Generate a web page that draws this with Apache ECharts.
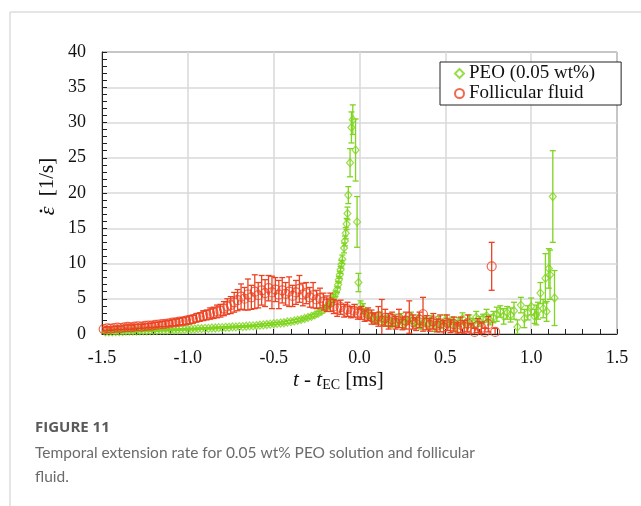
<!DOCTYPE html>
<html><head><meta charset="utf-8">
<script src="https://cdn.jsdelivr.net/npm/echarts@6/dist/echarts.min.js"></script>
<style>html,body{margin:0;padding:0;background:#fff}#c{width:641px;height:506px}</style>
</head><body><div id="c"></div>
<script>
// ---------- data ----------
const xTicks = [-1.5, -1.0, -0.5, 0.0, 0.5, 1.0, 1.5];
const yTicks = [0, 5, 10, 15, 20, 25, 30, 35, 40];

const peoT = [-1.48,-1.46,-1.44,-1.42,-1.40,-1.38,-1.36,-1.34,-1.32,-1.30,-1.28,-1.26,-1.24,-1.22,-1.20,-1.18,-1.16,-1.14,-1.12,-1.10,-1.08,-1.06,-1.04,-1.02,-1.00,-0.98,-0.96,-0.94,-0.92,-0.90,-0.88,-0.86,-0.84,-0.82,-0.80,-0.78,-0.76,-0.74,-0.72,-0.70,-0.68,-0.66,-0.64,-0.62,-0.60,-0.58,-0.56,-0.54,-0.52,-0.50,-0.48,-0.46,-0.44,-0.42,-0.40,-0.38,-0.36,-0.34,-0.32,-0.30,-0.28,-0.26,-0.24,-0.22,-0.20,-0.19,-0.18,-0.17,-0.16,-0.15,-0.14,-0.13,-0.125,-0.12,-0.115,-0.11,-0.105,-0.10,-0.09,-0.085,-0.08,-0.075,-0.07,-0.065,-0.055,-0.047,-0.039,-0.023,-0.014,-0.006,0.006,0.02,0.04,0.06,0.08,0.10,0.12,0.14,0.16,0.18,0.20,0.22,0.24,0.26,0.28,0.30,0.32,0.34,0.36,0.38,0.40,0.42,0.44,0.46,0.48,0.50,0.52,0.54,0.56,0.58,0.60,0.62,0.64,0.66,0.68,0.70,0.72,0.74,0.76,0.78,0.80,0.82,0.84,0.86,0.88,0.90,0.92,0.94,0.96,0.98,1.00,1.02,1.03,1.04,1.054,1.07,1.083,1.09,1.103,1.11,1.126,1.136];
const peoY = [0.3,0.3,0.3,0.35,0.35,0.35,0.4,0.4,0.4,0.4,0.45,0.45,0.45,0.5,0.5,0.5,0.55,0.55,0.55,0.6,0.6,0.6,0.65,0.65,0.7,0.7,0.7,0.75,0.75,0.8,0.8,0.85,0.85,0.9,0.9,0.95,0.95,1.0,1.0,1.05,1.05,1.1,1.15,1.15,1.2,1.25,1.3,1.35,1.4,1.45,1.5,1.55,1.6,1.7,1.75,1.85,1.95,2.05,2.2,2.35,2.5,2.7,2.95,3.25,3.6,3.85,4.1,4.4,4.8,5.2,5.7,6.3,7.0,7.7,8.4,9.1,9.9,10.6,12.2,13.2,14.3,15.6,17.1,19.7,24.3,29.3,30.4,26.1,15.9,7.3,4.1,3.6,3.0,2.6,2.3,2.0,2.4,1.8,2.1,1.5,2.0,1.6,2.2,1.4,1.9,2.3,1.6,2.0,1.2,1.8,1.4,2.1,1.0,1.7,1.3,2.0,1.5,1.9,1.1,1.7,2.2,1.4,2.0,1.6,2.4,1.8,2.2,2.6,2.0,2.4,2.8,3.2,2.5,3.0,2.7,3.3,1.0,4.1,2.2,3.0,3.9,2.5,2.7,3.3,5.8,3.6,7.9,3.2,9.3,8.4,19.5,5.1];
const peoErr = [0.1,0.1,0.1,0.1,0.1,0.1,0.1,0.1,0.1,0.1,0.1,0.1,0.1,0.1,0.1,0.1,0.1,0.1,0.1,0.1,0.1,0.1,0.1,0.1,0.1,0.1,0.1,0.1,0.1,0.1,0.1,0.1,0.1,0.1,0.1,0.1,0.1,0.1,0.1,0.1,0.1,0.1,0.1,0.1,0.15,0.15,0.15,0.15,0.15,0.15,0.15,0.15,0.2,0.2,0.2,0.2,0.2,0.2,0.2,0.2,0.25,0.25,0.25,0.3,0.3,0.3,0.3,0.35,0.35,0.4,0.4,0.4,0.45,0.45,0.5,0.5,0.55,0.6,0.7,0.7,0.8,0.8,0.9,1.2,2.0,2.2,2.1,4.4,3.6,1.3,0.6,0.7,0.6,0.5,0.6,0.5,0.7,0.6,0.5,0.6,0.8,0.5,0.7,0.6,0.5,0.8,0.6,0.7,0.5,0.6,0.7,0.5,0.6,0.8,0.5,0.7,0.6,0.5,0.7,0.6,0.8,0.5,0.7,0.6,0.8,0.7,0.6,0.9,0.7,0.8,1.0,0.8,1.1,0.9,1.0,1.2,1.0,1.1,1.3,1.0,1.2,1.0,1.4,1.2,1.5,1.3,3.5,1.4,2.8,3.5,6.5,3.9];

const ffT = [-1.49,-1.47,-1.45,-1.43,-1.41,-1.39,-1.37,-1.35,-1.33,-1.31,-1.29,-1.27,-1.25,-1.23,-1.21,-1.19,-1.17,-1.15,-1.13,-1.11,-1.09,-1.07,-1.05,-1.03,-1.01,-0.99,-0.97,-0.95,-0.93,-0.91,-0.89,-0.87,-0.85,-0.83,-0.81,-0.79,-0.77,-0.75,-0.73,-0.71,-0.69,-0.67,-0.65,-0.63,-0.61,-0.59,-0.57,-0.55,-0.53,-0.51,-0.49,-0.47,-0.45,-0.43,-0.41,-0.39,-0.37,-0.35,-0.33,-0.31,-0.29,-0.27,-0.25,-0.23,-0.21,-0.19,-0.17,-0.15,-0.13,-0.11,-0.09,-0.07,-0.05,-0.03,-0.01,0.01,0.03,0.05,0.07,0.09,0.11,0.13,0.15,0.17,0.19,0.21,0.23,0.25,0.27,0.29,0.31,0.33,0.35,0.37,0.39,0.41,0.43,0.45,0.47,0.49,0.51,0.53,0.55,0.57,0.59,0.61,0.63,0.65,0.67,0.69,0.71,0.73,0.75,0.77,0.79];
const ffY = [0.7,0.8,0.75,0.85,0.9,0.85,0.95,1.0,0.95,1.05,1.1,1.05,1.15,1.2,1.2,1.3,1.35,1.4,1.45,1.5,1.6,1.65,1.75,1.8,1.9,2.0,2.1,2.3,2.4,2.6,2.7,2.9,3.0,3.2,3.3,3.6,3.9,4.1,4.5,4.8,5.3,5.0,5.6,5.2,6.0,5.5,6.2,5.8,6.5,5.9,6.3,5.6,6.2,5.7,6.0,5.4,5.9,6.4,5.6,5.8,5.2,5.5,4.9,5.1,4.6,4.3,4.5,3.9,3.6,3.8,3.3,3.5,3.1,3.3,2.9,3.0,2.6,2.8,2.4,2.2,2.5,1.9,2.3,1.8,2.1,1.6,2.2,1.5,1.9,2.4,1.7,1.4,2.0,2.8,1.6,1.3,1.8,1.2,1.5,0.9,1.6,1.1,1.4,0.8,1.3,1.0,1.5,0.7,0.3,1.2,0.9,0.3,1.4,9.6,0.3];
const ffErr = [0.25,0.25,0.25,0.25,0.25,0.25,0.3,0.3,0.3,0.3,0.3,0.3,0.3,0.3,0.35,0.35,0.35,0.35,0.4,0.4,0.4,0.45,0.45,0.5,0.5,0.55,0.55,0.6,0.6,0.7,0.7,0.8,0.8,0.9,0.9,1.0,1.1,1.2,1.4,1.5,1.8,1.6,2.2,1.7,2.4,1.8,2.1,1.9,1.8,2.3,1.7,2.0,1.8,1.6,2.1,1.5,1.7,1.9,1.6,1.5,1.4,1.8,1.3,1.4,1.2,1.1,1.3,1.0,1.1,1.0,0.9,1.0,0.8,0.9,0.8,0.9,0.8,0.9,1.0,0.8,1.4,3.0,1.2,1.1,1.0,0.9,1.3,0.9,1.2,2.3,1.0,0.9,1.1,2.4,1.0,0.9,1.1,0.9,1.2,1.0,1.1,0.9,1.0,0.8,1.1,0.9,1.2,0.8,0.5,1.0,0.8,0.5,1.1,3.4,0.5];

// ---------- styles ----------
const GREEN = '#7fd41f';
const RED = '#ec4222';
const SERIF = '"Liberation Serif","Times New Roman",serif';

function errRender(color) {
  return function (params, api) {
    const x = api.value(0), lo = api.value(1), hi = api.value(2);
    const p1 = api.coord([x, hi]);
    const p2 = api.coord([x, lo]);
    const w = 3;
    const st = { stroke: color, lineWidth: 1.3 };
    return {
      type: 'group',
      children: [
        { type: 'line', shape: { x1: p1[0], y1: p1[1], x2: p2[0], y2: p2[1] }, style: st },
        { type: 'line', shape: { x1: p1[0] - w, y1: p1[1], x2: p1[0] + w, y2: p1[1] }, style: st },
        { type: 'line', shape: { x1: p2[0] - w, y1: p2[1], x2: p2[0] + w, y2: p2[1] }, style: st }
      ]
    };
  };
}

const peoPts = peoT.map((t, i) => [t, peoY[i]]);
const ffPts = ffT.map((t, i) => [t, ffY[i]]);
const peoBars = peoT.map((t, i) => [t, peoY[i] - peoErr[i], peoY[i] + peoErr[i]]);
const ffBars = ffT.map((t, i) => [t, ffY[i] - ffErr[i], ffY[i] + ffErr[i]]);

const chart = echarts.init(document.getElementById('c'), null, { renderer: 'canvas' });
chart.setOption({
  backgroundColor: '#fff',
  animation: false,
  grid: { left: 102, top: 52, right: 24, bottom: 172, show: true, borderColor: '#222', borderWidth: 1 },
  xAxis: {
    type: 'value', min: xTicks[0], max: xTicks[xTicks.length - 1], interval: 0.5,
    axisLine: { onZero: false, lineStyle: { color: '#222', width: 1 } },
    axisTick: { inside: true, length: 5, lineStyle: { color: '#222' } },
    minorTick: { show: true, splitNumber: 5, length: 5, lineStyle: { color: '#222' } },
    splitLine: { show: true, lineStyle: { color: '#d9d9d9', width: 1.5 } },
    axisLabel: { formatter: v => v.toFixed(1), fontFamily: SERIF, fontSize: 18, color: '#111', margin: 15 }
  },
  yAxis: {
    type: 'value', min: yTicks[0], max: yTicks[yTicks.length - 1], interval: 5,
    axisLine: { show: true, onZero: false, lineStyle: { color: '#222', width: 1 } },
    axisTick: { show: true, inside: true, length: 5, lineStyle: { color: '#222' } },
    minorTick: { show: true, splitNumber: 5, length: 5, lineStyle: { color: '#222' } },
    splitLine: { show: true, lineStyle: { color: '#d9d9d9', width: 1.5 } },
    axisLabel: { fontFamily: SERIF, fontSize: 18, color: '#111', margin: 16 }
  },
  legend: {
    data: ['PEO (0.05 wt%)', 'Follicular fluid'],
    orient: 'vertical', left: 440, top: 62,
    borderColor: '#222', borderWidth: 1, padding: [2, 26, 2, 14],
    itemGap: 1, itemWidth: 9, itemHeight: 9,
    textStyle: { fontFamily: SERIF, fontSize: 19, color: '#111' },
    backgroundColor: '#fff'
  },
  series: [
    { name: 'peoErr', type: 'custom', renderItem: errRender(GREEN), data: peoBars, clip: true, z: 2, silent: true },
    { name: 'PEO (0.05 wt%)', type: 'scatter', data: peoPts, symbol: 'diamond', symbolSize: [7, 8],
      itemStyle: { color: 'rgba(0,0,0,0)', borderColor: GREEN, borderWidth: 1.2 }, z: 3, clip: true },
    { name: 'ffErr', type: 'custom', renderItem: errRender(RED), data: ffBars, clip: true, z: 4, silent: true },
    { name: 'Follicular fluid', type: 'scatter', data: ffPts, symbol: 'circle', symbolSize: 9,
      itemStyle: { color: 'rgba(0,0,0,0)', borderColor: RED, borderWidth: 1.2 }, z: 5, clip: true }
  ],
  graphic: [
    { type: 'line', shape: { x1: 10, y1: 12, x2: 641, y2: 12 }, style: { stroke: '#dcdcdc', lineWidth: 1.5 } },
    { type: 'line', shape: { x1: 10, y1: 12, x2: 10, y2: 506 }, style: { stroke: '#dcdcdc', lineWidth: 1.5 } },
    { type: 'text', left: 293, top: 370,
      style: { text: '{i|t} - {i|t}{s|EC} [ms]', fontFamily: SERIF, fontSize: 21, fill: '#111',
        rich: { i: { fontStyle: 'italic', fontFamily: SERIF, fontSize: 21 }, s: { fontFamily: SERIF, fontSize: 14, padding: [9, 0, 0, 0] } } } },
    { type: 'text', x: 47, y: 177, rotation: Math.PI / 2,
      style: { text: '[1/s]', fontFamily: SERIF, fontSize: 21, fill: '#111', align: 'center', verticalAlign: 'middle' } },
    { type: 'text', x: 48, y: 211, rotation: Math.PI / 2,
      style: { text: '\u03B5', fontFamily: SERIF, fontStyle: 'italic', fontSize: 22, fill: '#111', align: 'center', verticalAlign: 'middle' } },
    { type: 'circle', shape: { cx: 41, cy: 211, r: 1.4 }, style: { fill: '#111' } },
    { type: 'text', left: 35, top: 420,
      style: { text: 'FIGURE 11', fontFamily: '"Open Sans","Noto Sans",sans-serif', fontWeight: 'bold', fontSize: 15, fill: '#5a5a5a' } },
    { type: 'text', left: 35, top: 441,
      style: { text: 'Temporal extension rate for 0.05 wt% PEO solution and follicular\nfluid.', fontFamily: 'Lato,"Open Sans",sans-serif', fontSize: 15.5, lineHeight: 24, fill: '#6b6b6b' } }
  ]
});
</script>
</body></html>
